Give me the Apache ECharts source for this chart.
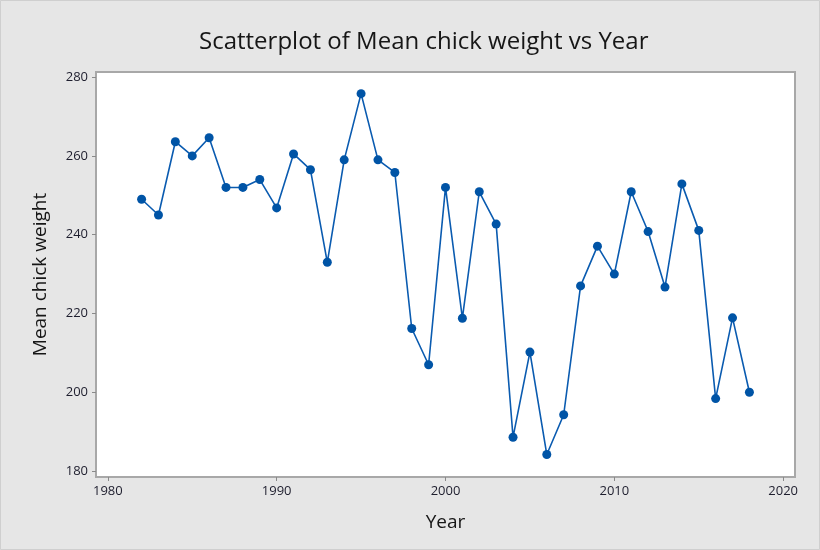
<!DOCTYPE html>
<html><head><meta charset="utf-8">
<script src="https://cdn.jsdelivr.net/npm/echarts@6/dist/echarts.min.js"></script>
<style>html,body{margin:0;padding:0;background:#e6e6e6}#c{width:820px;height:550px}</style>
</head><body><div id="c"></div>
<script>
const years = [1982,1983,1984,1985,1986,1987,1988,1989,1990,1991,1992,1993,1994,1995,1996,1997,1998,1999,2000,2001,2002,2003,2004,2005,2006,2007,2008,2009,2010,2011,2012,2013,2014,2015,2016,2017,2018];
const weights = [249,245,263.6,260,264.6,252,252,254,246.8,260.5,256.5,233,259,275.8,259,255.8,216.2,207,252,218.8,250.9,242.7,188.6,210.2,184.2,194.3,227,237.1,230,250.9,240.8,226.7,252.9,241.1,198.4,218.9,200];
const xTicks = [1980,1990,2000,2010,2020];
const yTicks = [180,200,220,240,260,280];

const chart = echarts.init(document.getElementById('c'), null, {renderer:'canvas'});
const font = '"Open Sans", "Noto Sans", sans-serif';
chart.setOption({
  backgroundColor: '#e6e6e6',
  animation: false,
  title: {
    text: 'Scatterplot of Mean chick weight vs Year',
    left: 194, top: 25,
    textStyle: {fontFamily: font, fontSize: 24, fontWeight: 'normal', color: '#161616'}
  },
  graphic: [{
    type: 'rect', shape: {x: 0.5, y: 0.5, width: 819, height: 549},
    style: {fill: 'none', stroke: '#cfcfcf', lineWidth: 1}, silent: true
  }],
  grid: {left: 96, top: 72, right: 25, bottom: 73, show: true,
         backgroundColor: '#ffffff', borderColor: '#a8a8a8', borderWidth: 2},
  xAxis: {
    type: 'value', min: 1979.3, max: 2020.7,
    name: 'Year', nameLocation: 'middle', nameGap: 36,
    nameTextStyle: {fontFamily: font, fontSize: 19, color: '#161616'},
    axisLine: {show: false},
    axisTick: {show: true, length: 4, lineStyle: {color: '#8a8a8a'},
               customValues: xTicks},
    axisLabel: {fontFamily: font, fontSize: 13, color: '#1e1e2e', margin: 8,
                customValues: xTicks, formatter: v => String(v)},
    splitLine: {show: false}
  },
  yAxis: {
    type: 'value', min: 178.5, max: 281.3,
    name: 'Mean chick weight', nameLocation: 'middle', nameGap: 46,
    nameTextStyle: {fontFamily: font, fontSize: 19, color: '#161616'},
    axisLine: {show: false},
    axisTick: {show: true, length: 4, lineStyle: {color: '#8a8a8a'},
               customValues: yTicks},
    axisLabel: {fontFamily: font, fontSize: 13, color: '#1e1e2e', margin: 8,
                customValues: yTicks, formatter: v => String(v)},
    splitLine: {show: false}
  },
  series: [{
    type: 'line',
    data: years.map((y, i) => [y, weights[i]]),
    symbol: 'circle', symbolSize: 9,
    lineStyle: {color: '#0a5bb0', width: 1.6},
    itemStyle: {color: '#0054a6'}
  }]
});
</script></body></html>
